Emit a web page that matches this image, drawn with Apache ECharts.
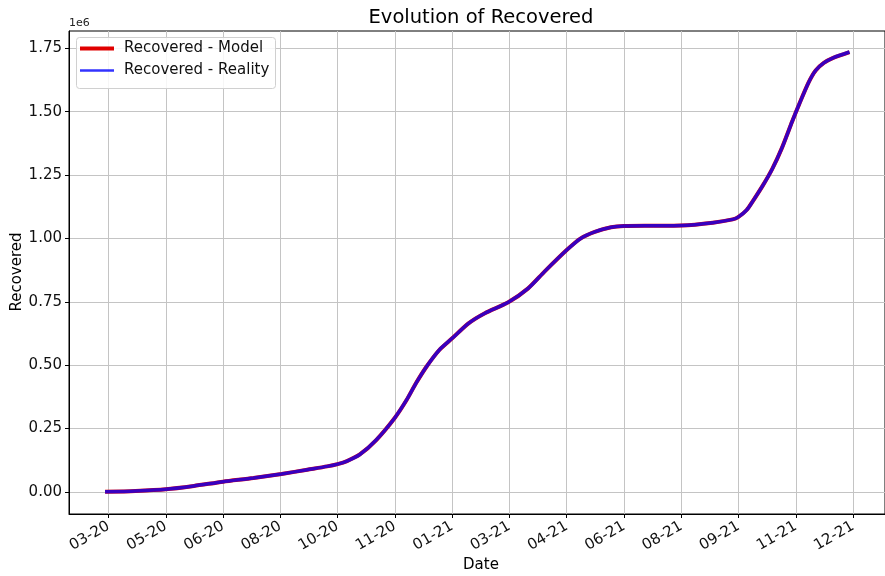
<!DOCTYPE html>
<html><head><meta charset="utf-8">
<script src="https://cdn.jsdelivr.net/npm/echarts@6/dist/echarts.min.js"></script>
<style>html,body{margin:0;padding:0;background:#fff}#c{width:885px;height:576px}</style>
</head><body><div id="c"></div>
<script>
// x tick labels (month-year) and their positions in days
const tickLabels = ['03-20','05-20','06-20','08-20','10-20','11-20','01-21','03-21','04-21','06-21','08-21','09-21','11-21','12-21'];
const tickDays = [0,49,98,147,196,245,294,343,392,441,490,539,588,637];
// y tick values
const yTicks = [0,250000,500000,750000,1000000,1250000,1500000,1750000];
// sample positions (days from first tick)
const days = [-3,23,49,73,98,124,148,170,187,196,204,215,229,245,255,263,272,283,294,308,322,342,359,373,392,404,416,430,441,466,490,517,534,539,546,551,560,568,576,585,591,599,605,612,620,634];
const modelValues = [500,4000,10600,23700,40600,55000,71000,88000,101000,110000,122000,148000,205000,293000,363000,428600,494000,560000,606000,665000,705000,748000,803000,869000,954000,1000000,1026000,1044000,1049000,1050000,1051000,1062000,1075000,1085000,1112000,1145000,1210000,1275000,1355000,1462000,1530000,1615000,1662000,1692000,1712000,1735000];
const realityValues = [500,4000,10600,23700,40600,55000,71000,88000,101000,110000,122000,148000,205000,293000,363000,428600,494000,560000,606000,665000,705000,748000,803000,869000,954000,1000000,1026000,1044000,1049000,1050000,1051000,1062000,1075000,1085000,1112000,1145000,1210000,1275000,1355000,1462000,1530000,1615000,1662000,1692000,1712000,1735000];

const FONT = 'DejaVu Sans';
const chart = echarts.init(document.getElementById('c'), null, {renderer:'canvas'});
const pairs = (xs, ys) => xs.map((x,i)=>[x, ys[i]]);

chart.setOption({
  animation: false,
  backgroundColor: '#fff',
  grid: {left: 69, right: -9, top: 31, bottom: 62, show: true, borderColor: '#000', borderWidth: 1, backgroundColor: 'transparent'},
  xAxis: {
    type: 'value', min: -33.85, max: 664.35,
    axisLine: {show: true, onZero: false, lineStyle: {color: '#000', width: 1}},
    axisTick: {show: true, length: 4, lineStyle: {color: '#000'}, customValues: tickDays},
    axisLabel: {customValues: tickDays, rotate: 30, margin: 11, color: '#111', fontFamily: FONT, fontSize: 15,
      formatter: v => { const i = tickDays.indexOf(v); return i >= 0 ? tickLabels[i] : ''; }},
    splitLine: {show: true, lineStyle: {color: '#c4c4c4', width: 1}}
  },
  yAxis: {
    type: 'value', min: -86750, max: 1817900,
    axisLine: {show: true, onZero: false, lineStyle: {color: '#000', width: 1}},
    axisTick: {show: true, length: 4, lineStyle: {color: '#000'}, customValues: yTicks},
    axisLabel: {customValues: yTicks, margin: 7, color: '#111', fontFamily: FONT, fontSize: 15,
      formatter: v => (v/1e6).toFixed(2)},
    splitLine: {show: true, lineStyle: {color: '#c4c4c4', width: 1}}
  },
  legend: [
    {data: [{name: 'Recovered - Model', icon: 'rect', itemStyle: {color: '#e00000'}}],
     left: 80, top: 41, padding: 0, itemWidth: 34, itemHeight: 4, z: 20,
     textStyle: {fontFamily: FONT, fontSize: 15, color: '#111', padding: [0,0,0,5]}},
    {data: [{name: 'Recovered - Reality', icon: 'rect', itemStyle: {color: 'rgba(0,0,255,0.8)'}}],
     left: 80, top: 63, padding: 0, itemWidth: 34, itemHeight: 2.5, z: 20,
     textStyle: {fontFamily: FONT, fontSize: 15, color: '#111', padding: [0,0,0,5]}}
  ],
  graphic: [
    {type: 'rect', left: 76, top: 37, z: 5, shape: {width: 199, height: 51, r: 3},
     style: {fill: 'rgba(255,255,255,0.85)', stroke: '#d0d0d0', lineWidth: 1}},
    {type: 'text', x: 481, y: 18, z: 60, style: {text: 'Evolution of Recovered', font: '19.5px "DejaVu Sans"', fill: '#000', textAlign: 'center', textVerticalAlign: 'middle'}},
    {type: 'text', x: 69, y: 23, z: 60, style: {text: '1e6', font: '11px "DejaVu Sans"', fill: '#222', textAlign: 'left', textVerticalAlign: 'middle'}},
    {type: 'text', x: 17, y: 272, rotation: Math.PI/2, z: 60, style: {text: 'Recovered', font: '15px "DejaVu Sans"', fill: '#000', textAlign: 'center', textVerticalAlign: 'middle'}},
    {type: 'text', x: 481, y: 565, z: 60, style: {text: 'Date', font: '15px "DejaVu Sans"', fill: '#000', textAlign: 'center', textVerticalAlign: 'middle'}}
  ],
  series: [
    {name: 'Recovered - Model', type: 'line', data: pairs(days, modelValues), showSymbol: false, smooth: 0.25,
     lineStyle: {color: '#e00000', width: 4}, itemStyle: {color: '#e00000'}, z: 2},
    {name: 'Recovered - Reality', type: 'line', data: pairs(days, realityValues), showSymbol: false, smooth: 0.25,
     lineStyle: {color: 'rgba(0,0,255,0.75)', width: 3.5}, itemStyle: {color: 'rgba(0,0,255,0.75)'}, z: 3}
  ]
});
</script></body></html>
